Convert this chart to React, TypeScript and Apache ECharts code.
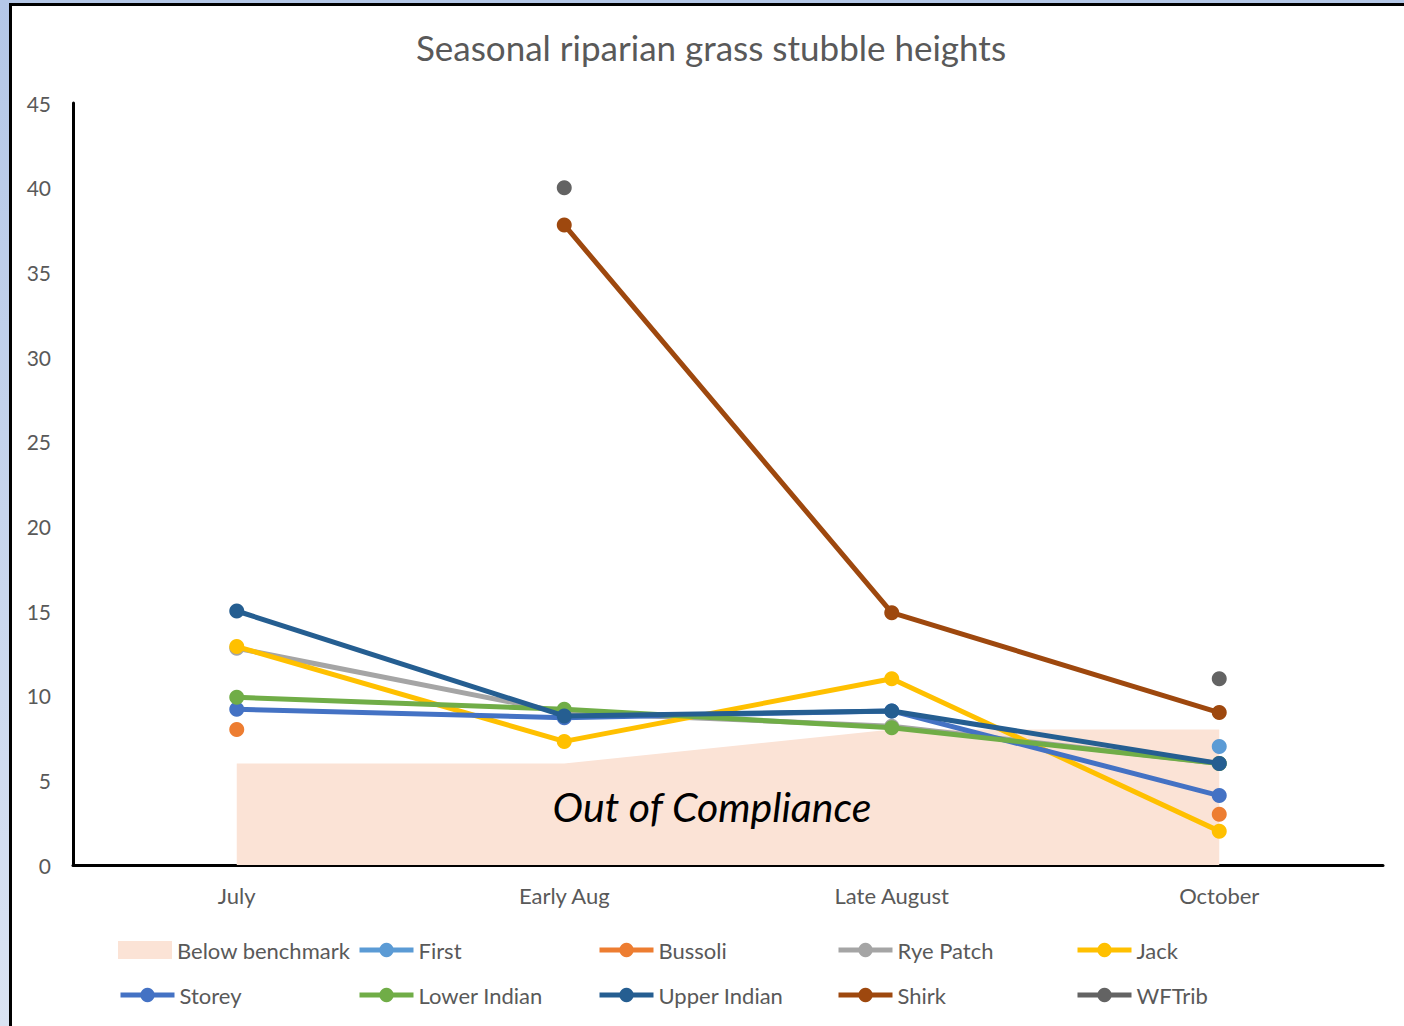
import React, { useEffect, useRef } from "react";
import * as echarts from "echarts";

const categories = ["July", "Early Aug", "Late August", "October"];
const yTicks = { min: 0, max: 45, interval: 5 };

const benchmark = [6, 6, 8, 8];
const first = [null, null, null, 7];
const bussoli = [8, null, null, 3];
const ryePatch = [12.8, 9.0, 8.2, 6.0];
const jack = [12.9, 7.3, 11.0, 2.0];
const storey = [9.2, 8.7, 9.1, 4.1];
const lowerIndian = [9.9, 9.2, 8.1, 6.0];
const upperIndian = [15.0, 8.8, 9.1, 6.0];
const shirk = [null, 37.8, 14.9, 9.0];
const wfTrib = [null, 40.0, null, 11.0];

const lineSeriesDefs = [
  { name: "First", data: first, color: "#5B9BD5" },
  { name: "Bussoli", data: bussoli, color: "#ED7D31" },
  { name: "Rye Patch", data: ryePatch, color: "#A5A5A5" },
  { name: "Jack", data: jack, color: "#FFC000" },
  { name: "Storey", data: storey, color: "#4472C4" },
  { name: "Lower Indian", data: lowerIndian, color: "#70AD47" },
  { name: "Upper Indian", data: upperIndian, color: "#255E91" },
  { name: "Shirk", data: shirk, color: "#9E480E" },
  { name: "WFTrib", data: wfTrib, color: "#636363" },
];

const legendRows = [
  ["Below benchmark", "First", "Bussoli", "Rye Patch", "Jack"],
  ["Storey", "Lower Indian", "Upper Indian", "Shirk", "WFTrib"],
];

const FONT = "Lato, 'Noto Sans', sans-serif";
const AREA_COLOR = "#FBE3D6";

export default function App() {
  const ref = useRef<HTMLDivElement>(null);

  useEffect(() => {
    if (!ref.current) return;
    const chart = echarts.init(ref.current, null, { renderer: "svg" });

    const legends: any[] = [];
    legendRows.forEach((row, r) => {
      row.forEach((name, c) => {
        legends.push({
          left: Math.round(118 + c * 239.3),
          top: 939 + r * 45,
          padding: 0,
          orient: "horizontal",
          itemWidth: 54,
          itemHeight: 18,
          itemGap: 0,
          selectedMode: false,
          lineStyle: { width: 5 },
          textStyle: { fontSize: 22, color: "#595959", fontFamily: FONT },
          data: [
            name === "Below benchmark"
              ? { name, icon: "rect", itemStyle: { color: AREA_COLOR } }
              : { name },
          ],
        });
      });
    });

    chart.setOption({
      animation: false,
      title: {
        text: "Seasonal riparian grass stubble heights",
        left: 706,
        top: 24,
        textAlign: "center",
        textStyle: { fontSize: 35, fontWeight: "normal", color: "#595959", fontFamily: FONT },
      },
      grid: { left: 73, right: 21, top: 103, bottom: 161, containLabel: false },
      legend: legends,
      xAxis: {
        type: "category",
        data: categories,
        boundaryGap: true,
        axisLine: { show: true, lineStyle: { color: "#000", width: 3 } },
        axisTick: { show: false },
        axisLabel: { color: "#595959", fontSize: 22, fontFamily: FONT, margin: 19 },
        splitLine: { show: false },
      },
      yAxis: {
        type: "value",
        min: yTicks.min,
        max: yTicks.max,
        interval: yTicks.interval,
        axisLine: { show: true, lineStyle: { color: "#000", width: 3 } },
        axisTick: { show: false },
        axisLabel: { color: "#595959", fontSize: 21, fontFamily: FONT, margin: 22 },
        splitLine: { show: false },
      },
      graphic: [
        {
          type: "text",
          x: 712,
          y: 806,
          z: 10,
          style: {
            text: "Out of Compliance",
            fill: "#000",
            align: "center",
            verticalAlign: "middle",
            font: "italic 41px Lato, 'Noto Sans', sans-serif",
          },
        },
      ],
      series: [
        {
          name: "Below benchmark",
          type: "line",
          data: benchmark,
          symbol: "none",
          lineStyle: { width: 0, color: AREA_COLOR },
          itemStyle: { color: AREA_COLOR },
          areaStyle: { color: AREA_COLOR, opacity: 1 },
          z: 1,
        },
        ...lineSeriesDefs.map((s, i) => ({
          name: s.name,
          type: "line",
          data: s.data,
          symbol: "circle",
          symbolSize: 15,
          showSymbol: true,
          showAllSymbol: true,
          connectNulls: false,
          lineStyle: { width: 5, color: s.color },
          itemStyle: { color: s.color },
          z: 2 + i,
        })),
      ],
    });

    return () => chart.dispose();
  }, []);

  return (
    <div
      style={{
        position: "fixed",
        left: 0,
        top: 0,
        width: 1404,
        height: 1026,
        background: "linear-gradient(#B4C7E7, #DAE3F3)",
        overflow: "hidden",
      }}
    >
      <div
        style={{
          position: "absolute",
          left: 9,
          top: 3,
          right: 0,
          bottom: 0,
          background: "#fff",
          borderLeft: "3px solid #000",
          borderTop: "3px solid #000",
        }}
      />
      <div ref={ref} style={{ position: "absolute", left: 0, top: 0, width: 1404, height: 1026 }} />
    </div>
  );
}
